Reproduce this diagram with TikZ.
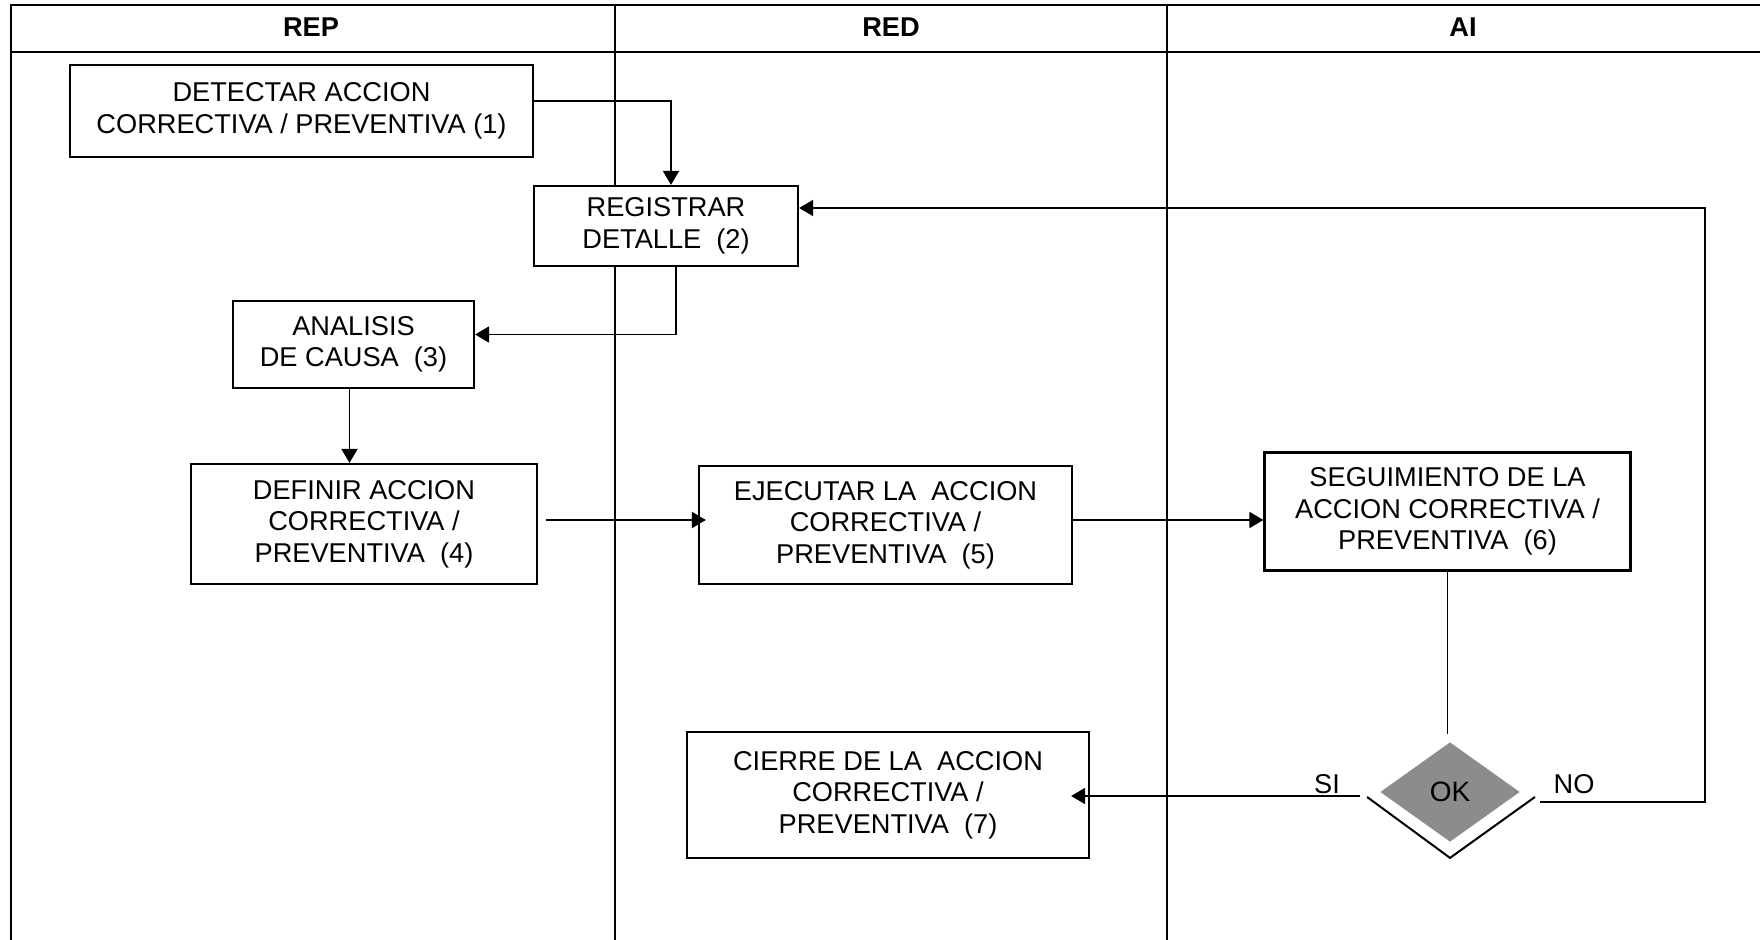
\documentclass[tikz,border=0pt]{standalone}
\usepackage{fontspec}
\setmainfont{Liberation Sans}
\usetikzlibrary{arrows.meta, shapes.geometric}

\begin{document}
\begin{tikzpicture}[x=0.5pt, y=-0.5pt, ->, >={Triangle[length=7pt,width=8pt]}, line width=0.9pt,
    box/.style={draw, fill=white, line width=1.1pt, align=center, inner sep=0pt, font=\fontsize{13.6}{15.8}\selectfont},
    lanehead/.style={font=\bfseries\fontsize{13.6}{16}\selectfont},
    lbl/.style={font=\fontsize{13.6}{16}\selectfont}]
    \useasboundingbox (0,0) rectangle (1760,940);
    % lanes
    \draw[-, line width=1.2pt] (11,940) -- (11,5) -- (1760,5);
    \draw[-, line width=1.2pt] (11,52) -- (1760,52);
    \draw[-, line width=0.6pt] (615,5) -- (615,940);
    \draw[-, line width=0.6pt] (1167,5) -- (1167,940);
    \node[lanehead] (rep) at (311,27) {REP};
    \node[lanehead] (red) at (891,27) {RED};
    \node[lanehead] (ai) at (1463,27) {AI};

    \node[box, minimum width=231.5pt, minimum height=46pt] (b1) at (301.5,111) {DETECTAR ACCION\\CORRECTIVA / PREVENTIVA (1)};
    \node[box, minimum width=132pt, minimum height=40pt] (b2) at (666,226) {REGISTRAR\\DETALLE~~(2)};
    \node[box, minimum width=120.5pt, minimum height=43.5pt] (b3) at (353.5,344.5) {ANALISIS\\DE CAUSA~~(3)};
    \node[box, minimum width=173pt, minimum height=60pt] (b4) at (364,524) {DEFINIR ACCION\\CORRECTIVA /\\PREVENTIVA~~(4)};
    \node[box, minimum width=186.5pt, minimum height=59pt] (b5) at (885.5,525) {EJECUTAR LA~~ACCION\\CORRECTIVA /\\PREVENTIVA~~(5)};
    \node[box, minimum width=183pt, minimum height=59pt] (b6) at (1447.5,511.5) {SEGUIMIENTO DE LA\\ACCION CORRECTIVA /\\PREVENTIVA~~(6)};
    \node[box, minimum width=201pt, minimum height=63pt] (b7) at (888,795) {CIERRE DE LA~~ACCION\\CORRECTIVA /\\PREVENTIVA~~(7)};
    \node[diamond, fill=black!45, inner sep=0pt, minimum width=70pt, minimum height=50pt, font=\fontsize{14}{16}\selectfont] (ok) at (1450,792) {OK};
    \draw[-, line width=1pt] ([xshift=-6pt,yshift=-2.5pt]ok.west) -- ([yshift=-7.5pt]ok.south) -- ([xshift=7pt,yshift=-2.5pt]ok.east);
    \coordinate (ret) at (1705,802);
    \node[lbl] (si) at (1327,784) {SI};
    \node[lbl] (no) at (1574,784) {NO};

    \draw ([yshift=5pt]b1.east) -| ([xshift=2.5pt]b2.north);
    \draw ([xshift=5pt]b2.south) |- ([yshift=5pt]b3.east);
    \draw ([xshift=-2pt]b3.south) -- ([xshift=-2pt]b3.south |- b4.north);
    \draw ([xshift=4pt,yshift=2pt]b4.east) -- ([xshift=4pt,yshift=2pt]b4.east -| b5.west);
    \draw ([yshift=2.5pt]b5.east) -- ([yshift=2.5pt]b5.east -| b6.west);
    \draw[-] (b6.south) -- ([yshift=3.5pt]b6.south |- ok.north);
    \draw ([xshift=-9.5pt,yshift=-2pt]ok.west) -- ([xshift=-9.5pt,yshift=-2pt]ok.west -| b7.east);
    \draw ([xshift=9.5pt,yshift=-5pt]ok.east) -- (ret) |- ([yshift=9pt]b2.east);
\end{tikzpicture}
\end{document}
